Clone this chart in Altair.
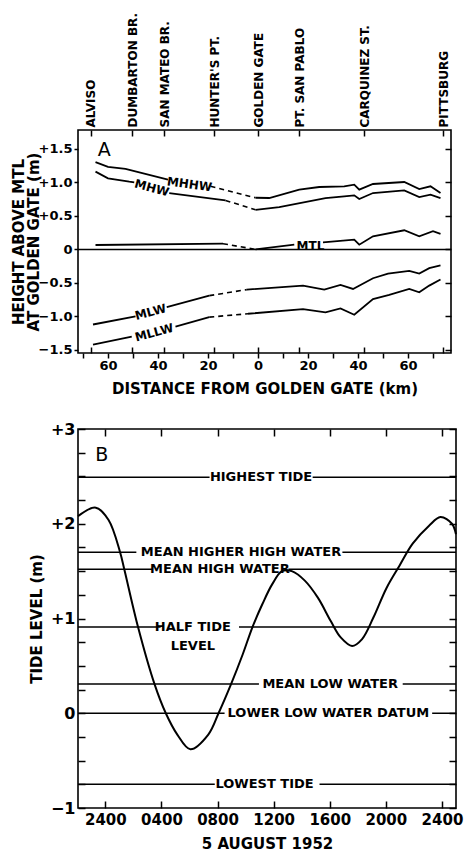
import altair as alt
import pandas as pd

FONT = "DejaVu Sans"

# ---------------- Panel A data ----------------
place_names = ["ALVISO", "DUMBARTON BR.", "SAN MATEO BR.", "HUNTER'S PT.",
               "GOLDEN GATE", "PT. SAN PABLO", "CARQUINEZ ST.", "PITTSBURG"]
place_km = [-67, -50.4, -37.5, -17.5, 0, 16.5, 42.5, 74]

# each series: list of segments (style, km, height above MTL in m)
mhhw_segments = [
    ("solid", [-65, -60, -53, -36], [1.30, 1.23, 1.20, 1.04]),
    ("dashed", [-19, -1], [0.94, 0.77]),
    ("solid", [-1, 4.5, 16.5, 24.5, 34.5, 38.5, 40.5, 46, 58.5, 64.5, 69, 73],
     [0.77, 0.766, 0.89, 0.93, 0.94, 0.965, 0.89, 0.975, 1.005, 0.90, 0.94, 0.84]),
]
mhw_segments = [
    ("solid", [-65, -60, -51.5, -49.5], [1.16, 1.06, 1.01, 1.00]),
    ("solid", [-35.5, -13], [0.84, 0.73]),
    ("dashed", [-13, -1], [0.73, 0.59]),
    ("solid", [-1, 8.5, 27, 34.5, 38.5, 40.5, 46, 58.5, 64.5, 69, 73],
     [0.59, 0.63, 0.765, 0.79, 0.805, 0.75, 0.84, 0.88, 0.78, 0.815, 0.765]),
]
mtl_segments = [
    ("solid", [-65, -14], [0.065, 0.085]),
    ("dashed", [-14, -1], [0.085, 0.0]),
    ("solid", [-1, 14.5], [0.0, 0.07]),
    ("solid", [26, 38.5, 40.5, 46, 58.5, 64.5, 70, 73],
     [0.105, 0.145, 0.07, 0.195, 0.285, 0.195, 0.27, 0.23]),
]
mlw_segments = [
    ("solid", [-66, -49], [-1.12, -1.0]),
    ("solid", [-36.5, -19.5], [-0.86, -0.69]),
    ("dashed", [-19.5, -4.5], [-0.69, -0.60]),
    ("solid", [-4.5, 18, 26.5, 33, 38, 46, 52, 60.5, 64.5, 68.5, 73],
     [-0.60, -0.54, -0.60, -0.53, -0.59, -0.43, -0.36, -0.32, -0.36, -0.28, -0.24]),
]
mllw_segments = [
    ("solid", [-66, -50.5], [-1.42, -1.30]),
    ("solid", [-33, -19.5], [-1.15, -1.01]),
    ("dashed", [-19.5, -4], [-1.01, -0.96]),
    ("solid", [-4, 18, 27, 33, 38.5, 46, 52.5, 60.5, 64.5, 68.5, 73],
     [-0.96, -0.89, -0.94, -0.88, -0.975, -0.74, -0.68, -0.59, -0.64, -0.54, -0.45]),
]

curve_label_text = ["MHHW", "MHW", "MTL", "MLW", "MLLW"]
curve_label_km = [-27.4, -42.5, 21, -43, -41.5]
curve_label_m = [0.97, 0.915, 0.055, -0.935, -1.24]
curve_label_angle = [8, 15, 0, 345, 345]

a_km_min, a_km_max = -72, 77.2
a_m_min, a_m_max = -1.545, 1.78
a_y_ticks = [-1.5, -1.0, -0.5, 0, 0.5, 1.0, 1.5]
a_x_ticks = list(range(-70, 71, 10))

# ---------------- Panel B data ----------------
tide_hour = [-1.95, -0.68, 0.23, 1.05, 1.35, 2.33, 3.5, 4.31, 5.13, 6.06,
             7.34, 8.07, 8.97, 9.79, 10.49, 11.19, 11.89, 12.59, 13.29, 14.22, 15.15,
             16.08, 16.78, 17.59, 18.29, 19.11, 20.04, 20.98, 21.91, 23.08, 23.89, 24.71, 25.0]
tide_level = [2.08, 2.17, 2.04, 1.70, 1.52, 0.91, 0.31, 0.0, -0.225, -0.38,
              -0.225, 0.0, 0.31, 0.62, 0.91, 1.15, 1.36, 1.50, 1.50, 1.40, 1.22,
              0.97, 0.80, 0.71, 0.78, 1.01, 1.32, 1.56, 1.79, 1.98, 2.07, 2.0, 1.89]

ref_names = ["HIGHEST TIDE", "MEAN HIGHER HIGH WATER", "MEAN HIGH WATER", "HALF TIDE\nLEVEL",
             "MEAN LOW WATER", "LOWER LOW WATER DATUM", "LOWEST TIDE"]
ref_level = [2.49, 1.70, 1.52, 0.91, 0.31, 0.0, -0.75]
ref_gap_start = [7.43, 2.21, 3.38, 3.94, 10.95, 8.5, 7.8]
ref_gap_end = [14.78, 16.9, 13.05, 9.53, 21.2, 23.3, 15.27]
ref_label_hour = [11.1, 9.67, 8.17, 6.24, 16.03, 15.9, 11.35]

b_hour_min, b_hour_max = -1.95, 25.0
b_level_min, b_level_max = -1, 3
b_y_ticks = [i * 0.25 for i in range(-4, 13)]
b_x_ticks = [0, 4, 8, 12, 16, 20, 24]

# ---------------- build tables ----------------
rows = []
for name, segs in [("MHHW", mhhw_segments), ("MHW", mhw_segments), ("MTL", mtl_segments),
                   ("MLW", mlw_segments), ("MLLW", mllw_segments)]:
    for i, (style, kms, vals) in enumerate(segs):
        for j, (k, v) in enumerate(zip(kms, vals)):
            rows.append({"series": name, "seg": f"{name}-{i}", "style": style,
                         "km": k, "m": v, "idx": j})
lines_df = pd.DataFrame(rows)

labels_df = pd.DataFrame({"text": curve_label_text, "km": curve_label_km,
                          "m": curve_label_m, "ang": curve_label_angle})

place_expr = ""
for k, n in zip(place_km, place_names):
    place_expr += f"datum.value == {k} ? \"{n}\" : "
place_expr += "''"

ax = alt.Scale(domain=[a_km_min, a_km_max], nice=False, zero=False)
ay = alt.Scale(domain=[a_m_min, a_m_max], nice=False, zero=False)

a_solid = alt.Chart(lines_df).transform_filter("datum.style == 'solid'").mark_line(
    color="black", strokeWidth=1.8).encode(
    x=alt.X("km:Q", scale=ax, axis=alt.Axis(
        orient="bottom", values=a_x_ticks,
        labelExpr="datum.value % 20 == 0 ? format(abs(datum.value), 'd') : ''",
        title="DISTANCE FROM GOLDEN GATE (km)", tickSize=5, labelPadding=1,
        titlePadding=9, labelFontSize=13, titleFontSize=15, minExtent=0)),
    y=alt.Y("m:Q", scale=ay, axis=alt.Axis(
        orient="left", values=a_y_ticks,
        labelExpr="datum.value > 0 ? '+' + format(datum.value, '.1f') : (datum.value == 0 ? '0' : '\u2212' + format(abs(datum.value), '.1f'))",
        title=["HEIGHT ABOVE MTL", "AT GOLDEN GATE (m)"], tickSize=4, labelPadding=2,
        titlePadding=-3, labelFontSize=13, titleFontSize=15, titleLineHeight=15,
        minExtent=0)),
    detail="seg:N", order="idx:Q")

a_dashed = alt.Chart(lines_df).transform_filter("datum.style == 'dashed'").mark_line(
    color="black", strokeWidth=1.6, strokeDash=[5, 4]).encode(
    x=alt.X("km:Q", scale=ax, axis=alt.Axis(
        orient="bottom", values=place_km, labels=False, title=None,
        tickSize=6, offset=-6, minExtent=0)),
    y=alt.Y("m:Q", scale=ay, axis=alt.Axis(
        orient="right", values=a_y_ticks, labels=False, title=None,
        tickSize=6, offset=-6, minExtent=0)),
    detail="seg:N", order="idx:Q")

a_text = alt.Chart(labels_df).mark_text(
    font=FONT, fontWeight="bold", fontSize=12, color="black").encode(
    x=alt.X("km:Q", scale=ax, axis=alt.Axis(
        orient="top", values=place_km, labelExpr=place_expr, labelAngle=270,
        labelAlign="left", labelBaseline="middle", title=None, tickSize=6,
        offset=-6, labelPadding=3, labelFontSize=12, minExtent=0)),
    y=alt.Y("m:Q", scale=ay, axis=None),
    text="text:N",
    angle=alt.Angle("ang:Q", scale=None))

a_zero = alt.Chart(pd.DataFrame({"m": [0]})).mark_rule(
    color="black", strokeWidth=1.5).encode(y=alt.Y("m:Q", scale=ay, axis=None))

a_letter = alt.Chart(pd.DataFrame({"t": ["A"], "km": [-61.5], "m": [1.485]})).mark_text(
    font=FONT, fontSize=19, color="black").encode(
    x=alt.X("km:Q", scale=ax, axis=None), y=alt.Y("m:Q", scale=ay, axis=None), text="t:N")

panel_a = alt.layer(a_zero, a_solid, a_dashed, a_text, a_letter).resolve_axis(
    x="independent", y="independent").properties(width=373, height=223)

# ---------------- Panel B ----------------
tide_df = pd.DataFrame({"hour": tide_hour, "level": tide_level})
rule_rows = []
for lv, g0, g1 in zip(ref_level, ref_gap_start, ref_gap_end):
    rule_rows.append({"level": lv, "h0": b_hour_min, "h1": g0})
    rule_rows.append({"level": lv, "h0": g1, "h1": b_hour_max})
rules_df = pd.DataFrame(rule_rows)
ref_df = pd.DataFrame({"text": ref_names, "hour": ref_label_hour, "level": ref_level})

bx = alt.Scale(domain=[b_hour_min, b_hour_max], nice=False, zero=False)
by = alt.Scale(domain=[b_level_min, b_level_max], nice=False, zero=False)

b_line = alt.Chart(tide_df).mark_line(
    color="black", strokeWidth=2, interpolate="catmull-rom").encode(
    x=alt.X("hour:Q", scale=bx, axis=alt.Axis(
        orient="bottom", values=b_x_ticks,
        labelExpr="(datum.value == 0 || datum.value == 24) ? '2400' : ((datum.value < 10 ? '0' : '') + datum.value + '00')",
        title="5 AUGUST 1952", tickSize=7, offset=-7, labelPadding=4,
        titlePadding=9, labelFontSize=15, titleFontSize=15, minExtent=0,
        labelFlush=True, labelFlushOffset=14)),
    y=alt.Y("level:Q", scale=by, axis=alt.Axis(
        orient="left", values=b_y_ticks,
        labelExpr="datum.value % 1 != 0 ? '' : (datum.value > 0 ? '+' + datum.value : (datum.value < 0 ? '\u2212' + abs(datum.value) : '0'))",
        title="TIDE LEVEL (m)", tickSize=7, offset=-7, labelPadding=3,
        titlePadding=6, labelFontSize=16, titleFontSize=15, minExtent=0)))

b_rules = alt.Chart(rules_df).mark_rule(color="black", strokeWidth=1.5).encode(
    x=alt.X("h0:Q", scale=bx, axis=alt.Axis(
        orient="top", values=b_x_ticks, labels=False, title=None, tickSize=7, offset=-7,
        minExtent=0)),
    x2="h1:Q",
    y=alt.Y("level:Q", scale=by, axis=alt.Axis(
        orient="right", values=b_y_ticks, labels=False, title=None, tickSize=7, offset=-7,
        minExtent=0)))

b_text = alt.Chart(ref_df).mark_text(
    font=FONT, fontWeight="bold", fontSize=13, color="black", lineBreak="\n",
    lineHeight=19, baseline="middle").encode(
    x=alt.X("hour:Q", scale=bx, axis=None),
    y=alt.Y("level:Q", scale=by, axis=None),
    text="text:N")

b_letter = alt.Chart(pd.DataFrame({"t": ["B"], "hour": [-0.26], "level": [2.73]})).mark_text(
    font=FONT, fontSize=19, color="black").encode(
    x=alt.X("hour:Q", scale=bx, axis=None), y=alt.Y("level:Q", scale=by, axis=None),
    text="t:N")

panel_b = alt.layer(b_rules, b_line, b_text, b_letter).resolve_axis(
    x="independent", y="independent").properties(width=378, height=379)

chart = alt.vconcat(panel_a, panel_b, spacing=23).properties(
    padding={"left": 2, "top": 3, "right": 0, "bottom": 0}
).configure_view(stroke="black", strokeWidth=1.6).configure_axis(
    labelFont=FONT, titleFont=FONT, labelFontWeight="bold", titleFontWeight="bold",
    labelColor="black", titleColor="black", tickColor="black", tickWidth=1.5,
    grid=False, domain=False, labelFlush=False, labelOverlap=False, minExtent=0
).configure_axisY(minExtent=0).configure_axisX(minExtent=0)

chart.save("out.html", embed_options={"renderer": "svg", "actions": False})
